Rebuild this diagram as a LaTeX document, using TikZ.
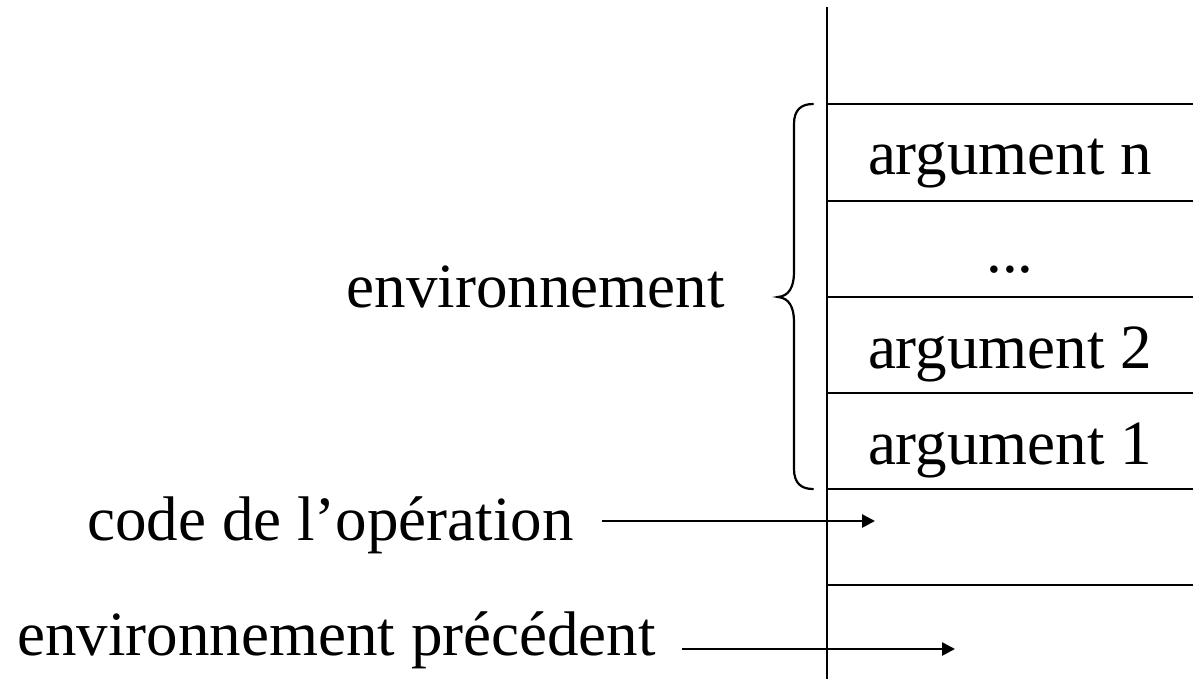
\documentclass[tikz,border=0pt]{standalone}
\usepackage{fontspec}
\setmainfont{Liberation Serif}
\usetikzlibrary{arrows.meta}
\tikzset{
  rule/.style={line width=2.6pt},
  pointer/.style={line width=2.6pt,-{Triangle[length=13pt,width=13pt]}},
  bracepath/.style={line width=2.2pt,line cap=round},
  lbl/.style={inner sep=0pt,font=\fontsize{63}{70}\selectfont},
}
\begin{document}
\begin{tikzpicture}[x=1pt,y=-1pt]
  \useasboundingbox (0,0) rectangle (1193,679);
  % the stack: vertical spine and cell separators
  \coordinate (top) at (827,7);
  \coordinate (bot) at (827,679);
  \draw[rule] (top) -- (bot);
  \foreach \y/\n in {104/s0,201/s1,297/s2,393/s3,489/s4,585/s5}{
    \coordinate (\n) at (827,\y);
    \draw[rule] (\n) -- (1193,\y);
  }
  % cell contents
  \node[lbl,anchor=base] (argn) at (1010,175) {argument n};
  \node[lbl,anchor=base] (dots) at (1010,272) {...};
  \node[lbl,anchor=base] (arg2) at (1010,368) {argument 2};
  \node[lbl,anchor=base] (arg1) at (1010,464) {argument 1};
  % brace grouping the arguments
  \draw[bracepath] (813,104) .. controls (801,104) and (794,110) .. (794,124)
    -- (794,272) .. controls (794,287) and (789,296) .. (778,297)
    .. controls (789,298) and (794,307) .. (794,322)
    -- (794,469) .. controls (794,483) and (801,489) .. (813,489);
  \node[lbl,anchor=base east] (env) at (725,307) {environnement};
  % pointers into the stack
  \node[lbl,anchor=base east,inner xsep=28pt] (code) at (602,540) {code de l’opération};
  \coordinate (opcell) at (875,521);
  \draw[pointer] (code.east |- opcell) -- (opcell);
  \node[lbl,anchor=base east,inner xsep=26pt] (prec) at (682,655) {environnement précédent};
  \coordinate (preccell) at (955,649);
  \draw[pointer] (prec.east |- preccell) -- (preccell);
\end{tikzpicture}
\end{document}
